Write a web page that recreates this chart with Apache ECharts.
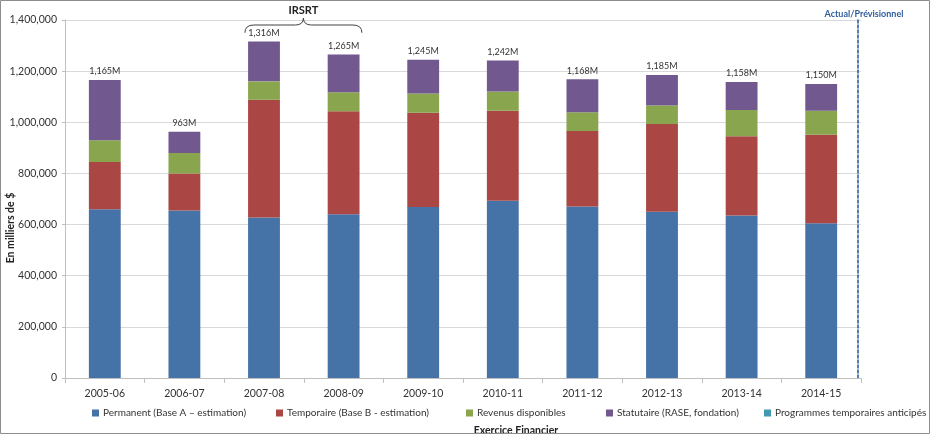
<!DOCTYPE html>
<html>
<head>
<meta charset="utf-8">
<script src="https://cdn.jsdelivr.net/npm/echarts@6/dist/echarts.min.js"></script>
<style>
html,body{margin:0;padding:0;background:#fff;}
#chart{width:930px;height:436px;}
</style>
</head>
<body>
<div id="chart"></div>
<script>
var categories = ['2005-06','2006-07','2007-08','2008-09','2009-10','2010-11','2011-12','2012-13','2013-14','2014-15'];
var permanent  = [660000, 655000, 628000, 640000, 669000, 693000, 671000, 650000, 635000, 605000];
var temporaire = [185000, 145000, 460000, 403000, 368000, 352000, 295000, 343000, 310000, 346000];
var revenus    = [85000, 80000, 72000, 74000, 76000, 75000, 73000, 73000, 103000, 94000];
var statutaire = [235000, 83000, 156000, 148000, 132000, 122000, 129000, 119000, 110000, 105000];
var programmes = [0, 0, 0, 0, 0, 0, 0, 0, 0, 0];
var totalLabels = ['1,165M','963M','1,316M','1,265M','1,245M','1,242M','1,168M','1,185M','1,158M','1,150M'];
var seriesNames = ['Permanent (Base A – estimation)','Temporaire (Base B - estimation)','Revenus disponibles','Statutaire (RASE, fondation)','Programmes temporaires anticipés'];

var FONT = 'Lato';
var chart = echarts.init(document.getElementById('chart'), null, {renderer:'canvas'});

function bar(name, data, color, extra) {
  var s = {
    name: name, type: 'bar', stack: 'total', data: data,
    barWidth: '40%',
    itemStyle: {color: color},
    emphasis: {disabled: true}
  };
  if (extra) for (var k in extra) s[k] = extra[k];
  return s;
}

var legendLefts = [87, 271, 461, 601, 759];
var legends = seriesNames.map(function (n, i) {
  return {
    left: legendLefts[i], top: 403, itemWidth: 7, itemHeight: 7, icon: 'rect',
    textStyle: {fontFamily: FONT, fontSize: 10, color: '#333', padding: [0,0,0,-1]},
    data: [n]
  };
});

var option = {
  animation: false,
  textStyle: {fontFamily: FONT},
  grid: {left: 65, right: 69, top: 20, bottom: 58},
  title: {
    text: 'Exercice Financier', left: 511, top: 420, textAlign: 'center',
    textStyle: {fontFamily: FONT, fontSize: 10.5, fontWeight: 'bold', color: '#222'}
  },
  legend: legends,
  xAxis: {
    type: 'category', data: categories,
    axisLine: {lineStyle: {color: '#bfbfbf'}},
    axisTick: {show: true, alignWithLabel: false, length: 5, lineStyle: {color: '#bfbfbf'}},
    axisLabel: {fontFamily: FONT, fontSize: 10.5, color: '#333', margin: 10}
  },
  yAxis: [{
    type: 'value', min: 0, max: 1400000, interval: 200000,
    axisLine: {show: true, lineStyle: {color: '#bfbfbf'}},
    axisTick: {show: true, length: 3, lineStyle: {color: '#bfbfbf'}},
    splitLine: {lineStyle: {color: '#d9d9d9'}},
    axisLabel: {fontFamily: FONT, fontSize: 10.5, color: '#333', margin: 8,
      formatter: function (v) { return v.toLocaleString('en-US'); }}
  }, {
    type: 'value', min: 0, max: 1400000, interval: 200000, position: 'right', offset: -3,
    axisLine: {show: true, lineStyle: {color: '#2f5d9c', type: [3, 2], width: 1.6}},
    axisTick: {show: false}, axisLabel: {show: false}, splitLine: {show: false}
  }],
  series: [
    bar(seriesNames[0], permanent, '#4572a7'),
    bar(seriesNames[1], temporaire, '#aa4643'),
    bar(seriesNames[2], revenus, '#89a54e'),
    bar(seriesNames[3], statutaire, '#71588f', {
      label: {show: true, position: 'top', distance: 4, fontFamily: FONT, fontSize: 9, color: '#333',
        formatter: function (p) { return totalLabels[p.dataIndex]; }}
    }),
    bar(seriesNames[4], programmes, '#4198af')
  ]
};
chart.setOption(option);

// IRSRT brace over 2007-08 and 2008-09, positioned through the axes
var xa = chart.convertToPixel({xAxisIndex: 0}, '2007-08');
var xb = chart.convertToPixel({xAxisIndex: 0}, '2008-09');
var band = xb - xa;
var x0 = xa - band * 0.24, x1 = xb + band * 0.23;
var yEnd = chart.convertToPixel({yAxisIndex: 0}, 1350000);
var yTop = chart.convertToPixel({yAxisIndex: 0}, 1400000);
var y2 = yTop + 5, y3 = yTop - 2;
var xm = (x0 + x1) / 2;
var braceStyle = {fill: 'none', stroke: '#404040', lineWidth: 1};
var xr = chart.convertToPixel({xAxisIndex: 0}, '2014-15') + band / 2 - 3;

chart.setOption({
  graphic: [
    {type: 'rect', shape: {x: 0.5, y: 0.5, width: 929, height: 433}, style: {fill: 'none', stroke: '#8c8c8c', lineWidth: 1}, silent: true, z: 100},
    {type: 'bezierCurve', shape: {x1: x0, y1: yEnd, cpx1: x0, cpy1: y2, x2: x0 + 9, y2: y2}, style: braceStyle, silent: true},
    {type: 'line', shape: {x1: x0 + 9, y1: y2, x2: xm - 8, y2: y2}, style: braceStyle, silent: true},
    {type: 'bezierCurve', shape: {x1: xm - 8, y1: y2, cpx1: xm, cpy1: y2, x2: xm, y2: y3}, style: braceStyle, silent: true},
    {type: 'bezierCurve', shape: {x1: xm, y1: y3, cpx1: xm, cpy1: y2, x2: xm + 8, y2: y2}, style: braceStyle, silent: true},
    {type: 'line', shape: {x1: xm + 8, y1: y2, x2: x1 - 9, y2: y2}, style: braceStyle, silent: true},
    {type: 'bezierCurve', shape: {x1: x1 - 9, y1: y2, cpx1: x1, cpy1: y2, x2: x1, y2: yEnd}, style: braceStyle, silent: true},
    {type: 'text', x: xm, y: 10, style: {text: 'IRSRT', fontFamily: FONT, fontSize: 11, fontWeight: 'bold', fill: '#222', align: 'center', verticalAlign: 'middle'}},
    {type: 'text', x: xr + 6, y: 14, style: {text: 'Actual/Prévisionnel', fontFamily: FONT, fontSize: 9, fontWeight: 'bold', fill: '#2f5d9c', align: 'center', verticalAlign: 'middle'}},
    {type: 'text', x: 11, y: 228, rotation: Math.PI / 2, style: {text: 'En milliers de $', fontFamily: FONT, fontSize: 10.5, fontWeight: 'bold', fill: '#222', align: 'center', verticalAlign: 'middle'}}
  ]
});
</script>
</body>
</html>
